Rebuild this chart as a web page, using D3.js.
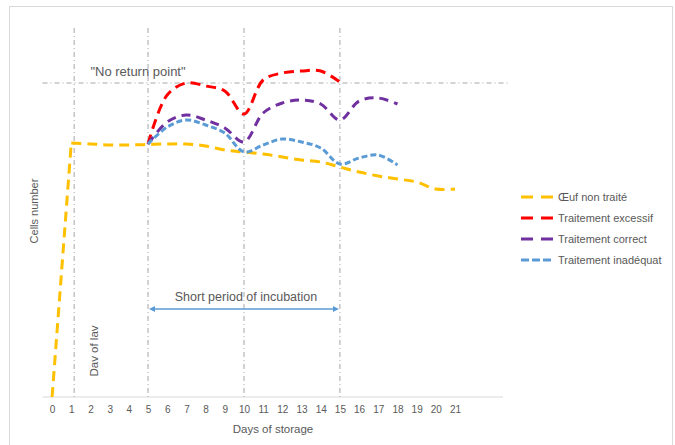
<!DOCTYPE html>
<html>
<head>
<meta charset="utf-8">
<script src="https://cdn.jsdelivr.net/npm/d3@7"></script>
<style>
  body { margin: 0; background: #fff; }
  text { font-family: "Liberation Sans", Arial, sans-serif; fill: #595959; }
</style>
</head>
<body>
<div id="chart"></div>
<script>
const width = 675;
const height = 445;

// data
const days = d3.range(0, 24);
const tickLabels = d3.range(0, 22).map(String).concat(["", ""]);
const oeufNonTraite = [0, 254, 253, 252, 252, 252.5, 253, 253, 251, 247, 245, 243, 240, 237, 235, 230, 225, 221, 218, 215, 208, 208];
const excessifDays = d3.range(5, 16);
const excessif = [253, 302, 314, 311, 306, 283, 317, 324, 326, 326, 315];
const correctDays = d3.range(5, 19);
const correct = [253, 275, 282, 277, 269, 255, 284, 294, 297, 293, 277, 296, 299, 293];
const inadequatDays = d3.range(5, 19);
const inadequat = [253, 270, 277, 272, 264, 245, 252, 258, 255, 249, 233, 239, 242, 232];
const markerDays = [1.15, 5, 10, 15];
const noReturn = 314;

const series = [
  { name: "Œuf non traité", days: d3.range(0, 22), values: oeufNonTraite, color: "#ffc000", dash: "10,6" },
  { name: "Traitement excessif", days: excessifDays, values: excessif, color: "#ff0000", dash: "10,6" },
  { name: "Traitement correct", days: correctDays, values: correct, color: "#7030a0", dash: "9,6" },
  { name: "Traitement inadéquat", days: inadequatDays, values: inadequat, color: "#5b9bd5", dash: "6,3" }
];

const svg = d3.select("#chart")
  .append("svg")
  .attr("width", width)
  .attr("height", height);

// cadre
svg.append("rect")
  .attr("x", 9.5).attr("y", 6.5)
  .attr("width", 663).attr("height", 445)
  .attr("fill", "none").attr("stroke", "#d9d9d9");

const x = d3.scaleLinear().domain([-0.5, 23.5]).range([42.5, 503]);
const y = d3.scaleLinear().domain([0, 370]).range([397, 27]);

// axe x
const xAxis = svg.append("g")
  .attr("transform", `translate(0,${y(0)})`)
  .call(d3.axisBottom(x).tickValues(days).tickSize(0).tickPadding(9)
    .tickFormat(d => tickLabels[d]));
xAxis.select(".domain").attr("stroke", "#d9d9d9").attr("d", `M${x(-0.5)},0H${x(23.5)}`);
xAxis.selectAll("text").style("font-size", "10px").attr("fill", "#595959");

// lignes verticales
svg.selectAll("line.marker")
  .data(markerDays)
  .enter()
  .append("line")
  .attr("class", "marker")
  .attr("x1", d => x(d)).attr("x2", d => x(d))
  .attr("y1", 28).attr("y2", y(0))
  .attr("stroke", "#a6a6a6")
  .attr("stroke-width", 1)
  .attr("stroke-dasharray", "5,3,1,3");

// "No return point"
svg.append("line")
  .attr("x1", x(-0.5)).attr("x2", 508)
  .attr("y1", y(noReturn)).attr("y2", y(noReturn))
  .attr("stroke", "#a6a6a6")
  .attr("stroke-dasharray", "5,3,1,3");
svg.append("text")
  .attr("x", 138).attr("y", 76)
  .attr("text-anchor", "middle")
  .style("font-size", "13px")
  .text("\"No return point\"");

// courbes (montée initiale en ligne droite, le reste lissé)
const smooth = d3.line()
  .x(d => x(d[0]))
  .y(d => y(d[1]))
  .curve(d3.curveCatmullRom.alpha(0.5));
const straight = d3.line()
  .x(d => x(d[0]))
  .y(d => y(d[1]));

function seriesPath(d) {
  const pts = d.days.map((t, i) => [t, d.values[i]]);
  if (pts[0][0] === 0) {
    return straight(pts.slice(0, 2)) + smooth(pts.slice(1));
  }
  return smooth(pts);
}

svg.selectAll("path.serie")
  .data(series)
  .enter()
  .append("path")
  .attr("class", "serie")
  .attr("fill", "none")
  .attr("stroke", d => d.color)
  .attr("stroke-width", 3)
  .attr("stroke-dasharray", d => d.dash)
  .attr("d", seriesPath);

// flèche période
const defs = svg.append("defs");
["start", "end"].forEach(k => {
  defs.append("marker")
    .attr("id", "arrow-" + k)
    .attr("viewBox", "0 0 10 10")
    .attr("refX", 5).attr("refY", 5)
    .attr("markerWidth", 4).attr("markerHeight", 4)
    .attr("orient", k === "start" ? "auto-start-reverse" : "auto")
    .append("path")
    .attr("d", "M0,0L10,5L0,10z")
    .attr("fill", "#5b9bd5");
});
svg.append("line")
  .attr("x1", x(5) + 4).attr("x2", x(15) - 4)
  .attr("y1", 309).attr("y2", 309)
  .attr("stroke", "#5b9bd5")
  .attr("stroke-width", 1.5)
  .attr("marker-start", "url(#arrow-start)")
  .attr("marker-end", "url(#arrow-end)");
svg.append("text")
  .attr("x", 246).attr("y", 301)
  .attr("text-anchor", "middle")
  .style("font-size", "12.5px")
  .text("Short period of incubation");

// titres
svg.append("text")
  .attr("x", 273).attr("y", 433)
  .attr("text-anchor", "middle")
  .style("font-size", "11.5px")
  .text("Days of storage");
svg.append("text")
  .attr("transform", "translate(38,211) rotate(-90)")
  .attr("text-anchor", "middle")
  .style("font-size", "11px")
  .text("Cells number");
svg.append("text")
  .attr("transform", "translate(98,351) rotate(-90)")
  .attr("text-anchor", "middle")
  .style("font-size", "11.5px")
  .text("Dav of lav");

// légende
const legend = svg.selectAll("g.legend")
  .data(series)
  .enter()
  .append("g")
  .attr("class", "legend")
  .attr("transform", (d, i) => `translate(521,${197 + i * 21})`);
legend.append("line")
  .attr("x1", 0).attr("x2", 32)
  .attr("stroke", d => d.color)
  .attr("stroke-width", 3)
  .attr("stroke-dasharray", d => d.name === "Traitement inadéquat" ? "8,3" : "12,8");
legend.append("text")
  .attr("x", 37).attr("y", 4)
  .style("font-size", "11px")
  .text(d => d.name);
</script>
</body>
</html>
